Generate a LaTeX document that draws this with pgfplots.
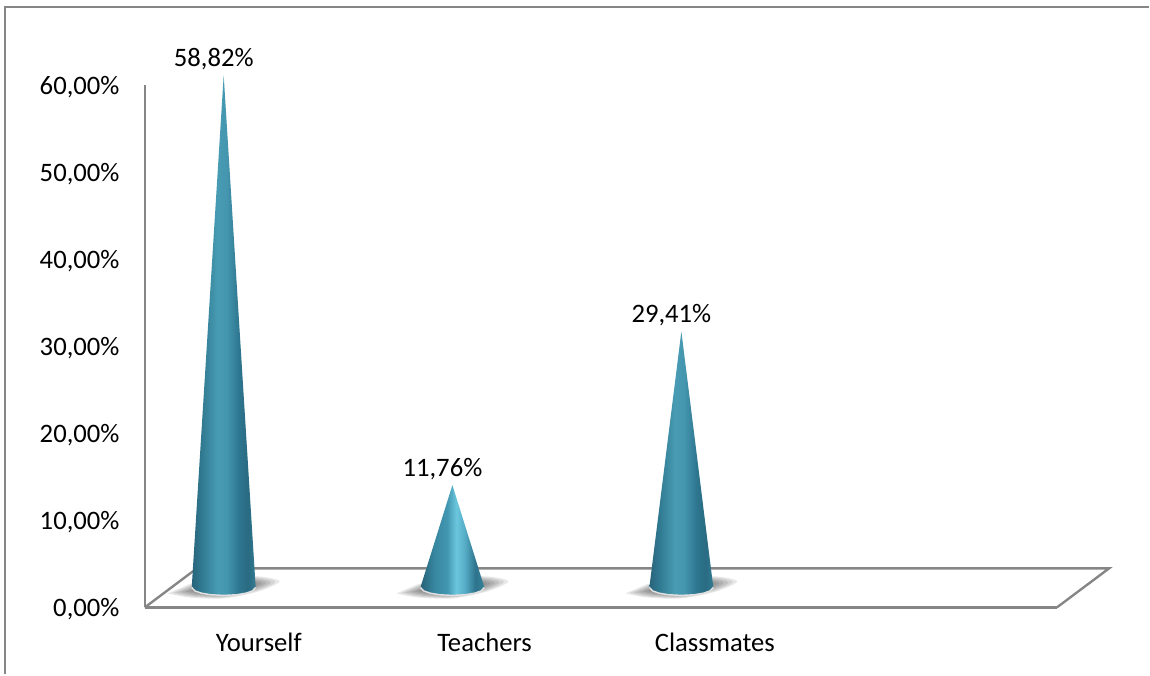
\documentclass[border=0pt]{standalone}
\usepackage{pgfplots}
\usepackage{pgfplotstable}
\usepackage{fontspec}
\setmainfont{Carlito}
\pgfplotsset{compat=1.18}
\definecolor{frame}{RGB}{134,134,134}
% Cross-section colours of the cones, left edge to right edge
\pgfdeclarehorizontalshading{tallcone}{100bp}{
  rgb(0bp)=(0.16,0.39,0.48);
  rgb(25bp)=(0.16,0.39,0.48);
  rgb(33bp)=(0.19,0.48,0.57);
  rgb(45bp)=(0.28,0.61,0.70);
  rgb(52bp)=(0.27,0.59,0.69);
  rgb(62bp)=(0.18,0.46,0.56);
  rgb(69bp)=(0.16,0.42,0.51);
  rgb(75bp)=(0.20,0.48,0.57);
  rgb(100bp)=(0.20,0.48,0.57)}
\pgfdeclarehorizontalshading{shortcone}{100bp}{
  rgb(0bp)=(0.15,0.38,0.47);
  rgb(25bp)=(0.15,0.38,0.47);
  rgb(36bp)=(0.22,0.53,0.63);
  rgb(46bp)=(0.26,0.59,0.69);
  rgb(53bp)=(0.42,0.78,0.87);
  rgb(60bp)=(0.33,0.67,0.77);
  rgb(68bp)=(0.18,0.45,0.55);
  rgb(75bp)=(0.21,0.51,0.60);
  rgb(100bp)=(0.21,0.51,0.60)}

% Outline of a unit cone: t = across the base, h = share of the height, s = sag of the rim
\pgfplotstableread{
t h s
-1 0 0
-0.9 0 0.436
-0.7 0 0.714
-0.4 0 0.917
0 0 1
0.4 0 0.917
0.7 0 0.714
0.9 0 0.436
1 0 0
0 1 0
}\coneoutline
\pgfplotstableread{
t s
-1 0
-0.9 0.436
-0.7 0.714
-0.4 0.917
0 1
0.4 0.917
0.7 0.714
0.9 0.436
1 0
}\conerim
% Floor shadow outline, in pixels from the centre of the base
\pgfplotstableread{
dx dy
-56 6
-35 10
0 11
35 4
56 -6
35 -11
0 -10
-35 -3
}\shadowoutline
% Category, depth-shifted position, percentage
\pgfplotstableread{
x val
-0.154 58.82
0.849 11.76
1.853 29.41
}\shares

% Nested translucent outlines build up a soft shadow on the floor
\newcommand{\cone}[3]{%
  \pgfplotsinvokeforeach{1,0.92,0.84,0.76,0.68,0.6,0.52,0.44,0.36}{%
    \addplot[draw=none, fill=black, fill opacity=0.09, smooth]
      table[x expr=#1+##1*\thisrow{dx}/228.25, y expr=2.3-##1*\thisrow{dy}/8.71] {\shadowoutline} -- cycle;
  }%
  \addplot[draw=none, shading=#3]
    table[x expr=#1+\thisrow{t}*0.1402, y expr=2.3+\thisrow{h}*#2-\thisrow{s}*0.92] {\coneoutline} -- cycle;
  \addplot[white!88!black, line width=1.1pt]
    table[x expr=#1+\thisrow{t}*0.1402, y expr=2.3-\thisrow{s}*0.92] {\conerim};
}

\begin{document}
\begin{tikzpicture}[x=1pt,y=1pt]
\begin{axis}[
  scale only axis,
  width=684.75pt, height=392pt,
  xmin=-0.5, xmax=3.5, ymin=0, ymax=60,
  axis x line=bottom, axis y line=left,
  axis line style={-, frame, line width=1.8pt},
  clip=false,
  xtick={0,0.99,2}, xticklabels={Yourself,Teachers,Classmates},
  ytick={0,10,20,30,40,50,60},
  major tick length=0pt,
  tick style={draw=none},
  x tick label style={yshift=-15.5pt, font=\fontsize{20}{24}\selectfont},
  y tick label style={xshift=-15.5pt, yshift=-1.5pt, font=\fontsize{20}{24}\selectfont},
  yticklabel={\pgfmathprintnumber[fixed,zerofill,precision=2,use comma,assume math mode=true]{\tick}\%},
]
% Page extent and outer frame
\addplot[draw=none, forget plot] coordinates {(-1.135,-7.69) (3.903,69.8)};
\addplot[frame, line width=1.8pt, forget plot] coordinates {(-1.113,-7.69) (-1.113,69.0) (3.903,69.0)};
% Floor of the plot
\addplot[frame, line width=1.8pt, forget plot] coordinates {(-0.5,0) (-0.272,4.48) (3.728,4.48) (3.5,0)};
% Cones
\cone{-0.154}{58.82}{tallcone}
\cone{0.849}{11.76}{shortcone}
\cone{1.853}{29.41}{tallcone}
% Value labels
\addplot[draw=none, mark=none,
  nodes near coords={\pgfmathprintnumber[fixed,zerofill,precision=2,use comma,assume math mode=true]{\pgfplotspointmeta}\%},
  every node near coord/.style={font=\fontsize{20}{24}\selectfont, text=black, anchor=south, xshift=-7.5pt, yshift=0.5pt},
  point meta=explicit]
  table[x=x, y expr=\thisrow{val}+2.3, meta=val] {\shares};
\end{axis}
\end{tikzpicture}
\end{document}
